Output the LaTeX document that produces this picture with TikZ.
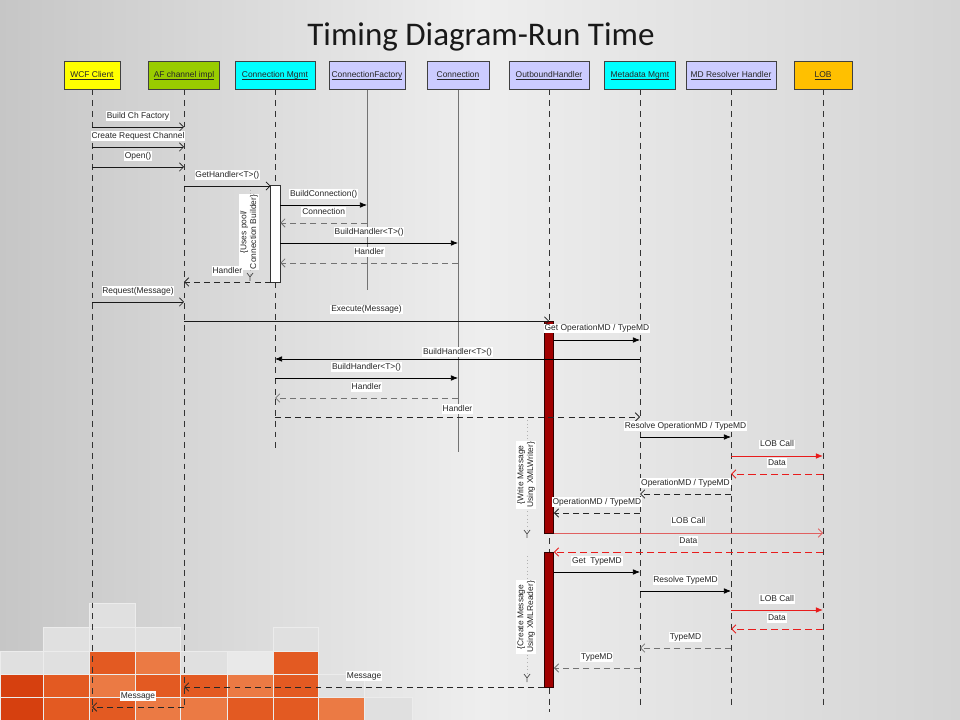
\documentclass[tikz,border=0pt]{standalone}
\usepackage{fontspec}
\newfontfamily\arialfont{Liberation Sans}
\newfontfamily\titlefont{Carlito}
\usetikzlibrary{calc,arrows.meta}
\newcommand{\headtext}[1]{\setbox0\hbox{#1}\rlap{\rule[-1.1pt]{\wd0}{0.35pt}}\box0}

\definecolor{bgleft}{HTML}{C6C6C6}
\definecolor{bgmid}{HTML}{EEEEEE}
\definecolor{bgright}{HTML}{D4D4D4}
\definecolor{wcfyellow}{HTML}{FFFF00}
\definecolor{afgreen}{HTML}{99CC00}
\definecolor{mgmtcyan}{HTML}{00FFFF}
\definecolor{objblue}{HTML}{CCCCFF}
\definecolor{loborange}{HTML}{FFC000}
\definecolor{actred}{HTML}{A00000}
\definecolor{lobred}{HTML}{E81C1C}
\definecolor{lobpink}{HTML}{E06060}
\definecolor{tilegray}{HTML}{E0E0E0}
\definecolor{tileorange}{HTML}{E35A22}
\definecolor{tiledeep}{HTML}{D6400F}
\definecolor{tilelight}{HTML}{EB7A44}

\tikzset{
  lifehead/.style={draw=black!75, line width=0.6pt, minimum height=0.68cm, inner sep=1pt,
    text=black!85, font=\arialfont\fontsize{6}{7}\selectfont},
  lifeline/.style={draw=black!80, dash pattern=on 4.2pt off 3.4pt, line width=0.6pt},
  objline/.style={draw=black!55, line width=0.7pt},
  opentip/.style={-{Straight Barb[length=3pt,width=6pt]}},
  filltip/.style={-{Latex[length=5pt,width=4pt]}},
  callopen/.style={draw=black!90, line width=0.5pt, opentip},
  callfill/.style={draw=black, line width=0.5pt, filltip},
  retline/.style={draw=black!85, dash pattern=on 4.2pt off 3pt, line width=0.6pt, opentip},
  retgray/.style={retline, draw=black!55},
  lobcall/.style={draw=lobred, line width=0.6pt, filltip},
  lobcallopen/.style={draw=lobpink, line width=0.6pt, opentip},
  lobdata/.style={draw=lobred, dash pattern=on 5pt off 3pt, line width=0.7pt, opentip},
  msglabel/.style={midway, above=#1, fill=white, inner sep=0.6pt, text=black!85,
    text height=4.5pt, text depth=1.2pt, font=\arialfont\fontsize{6}{7}\selectfont},
  msglabel/.default=4pt,
  notebox/.style={rotate=90, fill=white, align=center, inner sep=1pt, text=black!85,
    font=\arialfont\fontsize{6}{7}\selectfont},
  notetrail/.style={draw=black!30, dotted, line width=0.6pt},
  ymark/.style={draw=black!70, line width=0.5pt},
  actbox/.style={draw=black!80, line width=0.6pt, minimum width=0.24cm, inner sep=0pt, outer sep=0pt},
  tile/.style={draw=white!85!gray, line width=0.4pt}
}

\begin{document}
\begin{tikzpicture}[x=0.025cm, y=-0.025cm]
% background
\shade[left color=bgleft, right color=bgright, middle color=bgmid] (0,0) rectangle (960,720);
\useasboundingbox (0,0) rectangle (960,720);

% tiles bottom left
\filldraw[tile, fill=tilegray] (89,603) rectangle (135,627);
\filldraw[tile, fill=tilegray] (43,627) rectangle (89,651);
\filldraw[tile, fill=tilegray] (89,627) rectangle (135,651);
\filldraw[tile, fill=tilegray] (135,627) rectangle (180,651);
\filldraw[tile, fill=tilegray] (273,627) rectangle (318,651);
\filldraw[tile, fill=tilegray] (0,651) rectangle (43,674);
\filldraw[tile, fill=tilegray] (43,651) rectangle (89,674);
\filldraw[tile, fill=tileorange] (89,651) rectangle (135,674);
\filldraw[tile, fill=tilelight] (135,651) rectangle (180,674);
\filldraw[tile, fill=tilegray] (180,651) rectangle (227,674);
\filldraw[tile, fill=tilegray!70!white] (227,651) rectangle (273,674);
\filldraw[tile, fill=tileorange] (273,651) rectangle (318,674);
\filldraw[tile, fill=tiledeep] (0,674) rectangle (43,697);
\filldraw[tile, fill=tileorange] (43,674) rectangle (89,697);
\filldraw[tile, fill=tilelight] (89,674) rectangle (135,697);
\filldraw[tile, fill=tileorange] (135,674) rectangle (180,697);
\filldraw[tile, fill=tileorange] (180,674) rectangle (227,697);
\filldraw[tile, fill=tilelight] (227,674) rectangle (273,697);
\filldraw[tile, fill=tileorange] (273,674) rectangle (318,697);
\filldraw[tile, fill=tilegray] (318,674) rectangle (364,697);
\filldraw[tile, fill=tiledeep] (0,697) rectangle (43,720);
\filldraw[tile, fill=tileorange] (43,697) rectangle (89,720);
\filldraw[tile, fill=tileorange] (89,697) rectangle (135,720);
\filldraw[tile, fill=tilelight] (135,697) rectangle (180,720);
\filldraw[tile, fill=tilelight] (180,697) rectangle (227,720);
\filldraw[tile, fill=tileorange] (227,697) rectangle (273,720);
\filldraw[tile, fill=tileorange] (273,697) rectangle (318,720);
\filldraw[tile, fill=tilelight] (318,697) rectangle (364,720);
\filldraw[tile, fill=tilegray] (364,697) rectangle (412,720);

% title
\node[font=\titlefont\fontsize{23.5}{27}\selectfont, text=black!90] (title) at (481,37) {Timing Diagram-Run Time};

% lifeline heads
\node[lifehead, fill=wcfyellow, minimum width=1.40cm] (wcf) at (92,75.5) {\headtext{WCF Client}};
\node[lifehead, fill=afgreen, minimum width=1.76cm] (afc) at (184,75.5) {\headtext{AF channel impl}};
\node[lifehead, fill=mgmtcyan, minimum width=2.00cm] (cm) at (275,75.5) {\headtext{Connection Mgmt}};
\node[lifehead, fill=objblue, minimum width=1.90cm] (cf) at (367,75.5) {\headtext{ConnectionFactory}};
\node[lifehead, fill=objblue, minimum width=1.55cm] (conn) at (458,75.5) {\headtext{Connection}};
\node[lifehead, fill=objblue, minimum width=2.00cm] (oh) at (549,75.5) {\headtext{OutboundHandler}};
\node[lifehead, fill=mgmtcyan, minimum width=1.78cm] (md) at (640,75.5) {\headtext{Metadata Mgmt}};
\node[lifehead, fill=objblue, minimum width=2.25cm] (mdr) at (731,75.5) {\headtext{MD Resolver Handler}};
\node[lifehead, fill=loborange, minimum width=1.45cm] (lob) at (823,75.5) {\headtext{LOB}};

% lifelines
\draw[lifeline] (wcf.south) -- (wcf |- 0,712);
\draw[lifeline] (afc.south) -- (afc |- 0,707);
\draw[lifeline] (cm.south) -- (cm |- 0,452);
\draw[objline] (cf.south) -- (cf |- 0,290);
\draw[objline] (conn.south) -- (conn |- 0,452);
\draw[lifeline] (oh.south) -- (oh |- 0,712);
\draw[lifeline] (md.south) -- (md |- 0,708);
\draw[lifeline] (mdr.south) -- (mdr |- 0,708);
\draw[lifeline] (lob.south) -- (lob |- 0,708);

% activations
\node[actbox, fill=white, minimum height=2.425cm] (cmact) at (275.5,233.5) {};
\node[actbox, fill=actred, draw=black!70!actred, minimum height=5.3cm] (ohact1) at (549,427) {};
\node[actbox, fill=actred, draw=black!70!actred, minimum height=3.375cm] (ohact2) at (549,619.5) {};

% notes
\draw[notetrail] (250,186) -- (250,277);
\node[notebox] (usespool) at (249,232) {\{Uses pool/\\Connection Builder\}};
\draw[ymark] (247,273) -- (250,277) -- (253,273) (250,277) -- (250,281);
\draw[notetrail] (527,420) -- (527,533);
\node[notebox] (writemsg) at (526,475) {\{Write Message\\Using XMLWriter\}};
\draw[ymark] (524,530) -- (527,534) -- (530,530) (527,534) -- (527,538);
\draw[notetrail] (527,556) -- (527,677);
\node[notebox] (createmsg) at (526,617) {\{Create Message\\Using XMLReader\}};
\draw[ymark] (524,674) -- (527,678) -- (530,674) (527,678) -- (527,682);

% channel setup
\draw[callopen] (wcf |- 0,127) -- node[msglabel] (m1) {Build Ch Factory} (afc |- 0,127);
\draw[callopen] (wcf |- 0,147) -- node[msglabel] (m2) {Create Request Channel} (afc |- 0,147);
\draw[callopen] (wcf |- 0,167) -- node[msglabel] (m3) {Open()} (afc |- 0,167);
\draw[callopen] (afc |- 0,186) -- node[msglabel] (m4) {GetHandler<T>()} (cmact.west |- 0,186);
\draw[callfill] (cmact.east |- 0,205) -- node[msglabel] (m5) {BuildConnection()} (cf |- 0,205);
\draw[retgray] (cf |- 0,223) -- node[msglabel] (m6) {Connection} (cmact.east |- 0,223);
\draw[callfill] (cmact.east |- 0,243) -- node[msglabel] (m7) {BuildHandler<T>()} (conn |- 0,243);
\draw[retgray] (conn |- 0,263) -- node[msglabel] (m8) {Handler} (cmact.east |- 0,263);
\draw[retline] (cmact.west |- 0,282) -- node[msglabel] (m9) {Handler} (afc |- 0,282);

% request
\draw[callopen] (wcf |- 0,302) -- node[msglabel] (m10) {Request(Message)} (afc |- 0,302);
\draw[callopen] (afc |- 0,321) -- node[msglabel=4.5pt] (m11) {Execute(Message)} (oh |- 0,321);
\draw[callfill] (ohact1.east |- 0,340) -- node[msglabel=4.5pt] (m12) {Get OperationMD / TypeMD} (md |- 0,340);
\draw[callfill] (md |- 0,359) -- node[msglabel=1.5pt] (m13) {BuildHandler<T>()} (cm |- 0,359);
\draw[callfill] (cm |- 0,378) -- node[msglabel] (m14) {BuildHandler<T>()} (conn |- 0,378);
\draw[retgray] (conn |- 0,398) -- node[msglabel] (m15) {Handler} (cm |- 0,398);
\draw[retline] (cm |- 0,417) -- node[msglabel=2pt] (m16) {Handler} (md |- 0,417);
\draw[callfill] (md |- 0,437) -- node[msglabel] (m17) {Resolve OperationMD / TypeMD} (mdr |- 0,437);
\draw[lobcall] (mdr |- 0,456) -- node[msglabel=4.5pt] (m18) {LOB Call} (lob |- 0,456);
\draw[lobdata] (lob |- 0,474) -- node[msglabel] (m19) {Data} (mdr |- 0,474);
\draw[retline] (mdr |- 0,494) -- node[msglabel] (m20) {OperationMD / TypeMD} (md |- 0,494);
\draw[retline] (md |- 0,513) -- node[msglabel] (m21) {OperationMD / TypeMD} (ohact1.east |- 0,513);
\draw[lobcallopen] (ohact1.east |- 0,533) -- node[msglabel=4.5pt] (m22) {LOB Call} (lob |- 0,533);
\draw[lobdata] (lob |- 0,552) -- node[msglabel] (m23) {Data} (ohact2.east |- 0,552);

% type metadata
\draw[callfill] (ohact2.east |- 0,572) -- node[msglabel] (m24) {Get\ \ TypeMD} (md |- 0,572);
\draw[callfill] (md |- 0,591) -- node[msglabel] (m25) {Resolve TypeMD} (mdr |- 0,591);
\draw[lobcall] (mdr |- 0,610) -- node[msglabel] (m26) {LOB Call} (lob |- 0,610);
\draw[lobdata] (lob |- 0,629) -- node[msglabel] (m27) {Data} (mdr |- 0,629);
\draw[retgray] (mdr |- 0,648) -- node[msglabel] (m28) {TypeMD} (md |- 0,648);
\draw[retgray] (md |- 0,668) -- node[msglabel] (m29) {TypeMD} (ohact2.east |- 0,668);
\draw[retline] (ohact2.west |- 0,687) -- node[msglabel] (m30) {Message} (afc |- 0,687);
\draw[retline] (afc |- 0,707) -- node[msglabel] (m31) {Message} (wcf |- 0,707);
\end{tikzpicture}
\end{document}
